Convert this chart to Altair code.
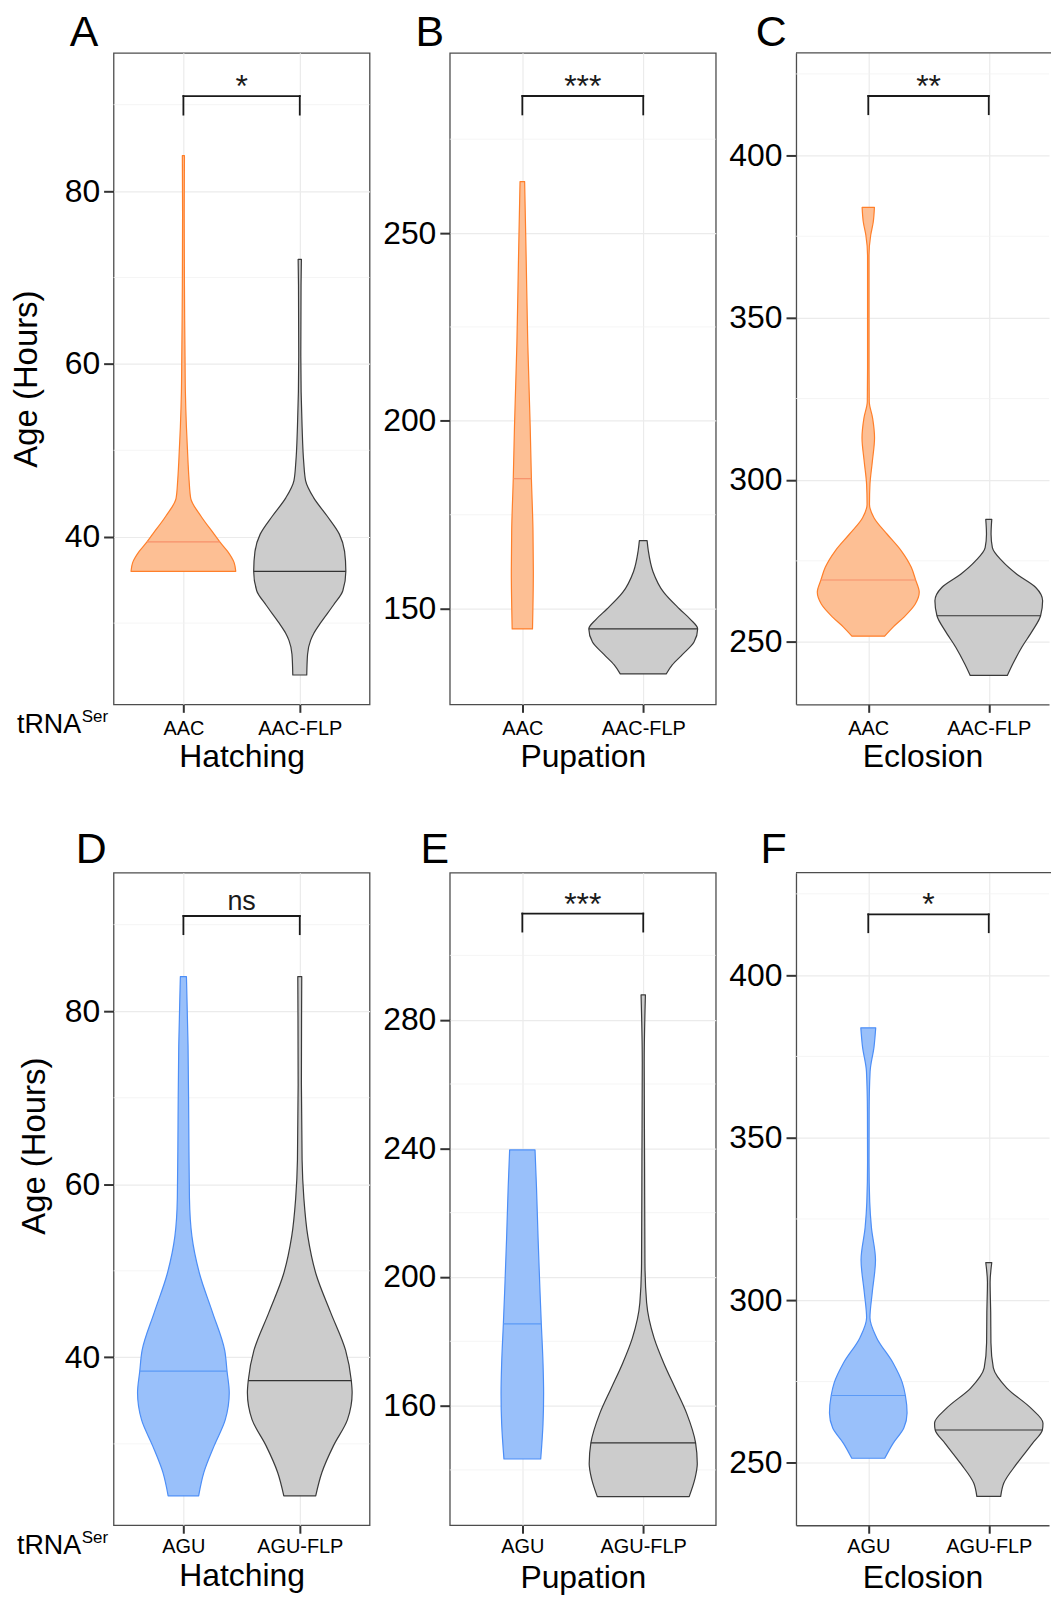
import altair as alt
import numpy as np
import pandas as pd

FONT = "Liberation Sans"

# Violin outlines: ages (hours) with the half-width of the violin at each age,
# in category units (full violin width is 0.9 of the category spacing).

# A - Hatching, tRNA-Ser AAC vs AAC-FLP
A_CTRL_AGE = [36.0, 37.0, 38.3, 39.4, 40.3, 42.4, 44.45, 46.5, 48.6, 52.7, 56.8, 60.9, 65.0, 69.1, 77.3, 84.1]
A_CTRL_HW = [0.45, 0.436, 0.38, 0.313, 0.264, 0.15, 0.063, 0.049, 0.04, 0.026, 0.017, 0.014, 0.011, 0.009, 0.007, 0.009]
A_FLP_AGE = [24.0, 26.4, 28.0, 28.8, 30.05, 32.1, 33.75, 36.0, 38.3, 40.3, 42.4, 44.5, 46.5, 48.6, 52.7, 60.9, 69.1, 72.1]
A_FLP_HW = [0.06, 0.067, 0.093, 0.12, 0.18, 0.29, 0.37, 0.396, 0.385, 0.34, 0.235, 0.12, 0.05, 0.034, 0.02, 0.009, 0.011, 0.014]

# B - Pupation, AAC vs AAC-FLP
B_CTRL_AGE = [144.6, 159.9, 171.0, 184.6, 198.5, 220.6, 242.8, 263.7]
B_CTRL_HW = [0.084, 0.091, 0.088, 0.075, 0.065, 0.045, 0.032, 0.019]
B_FLP_AGE = [132.6, 135.0, 137.8, 141.1, 144.6, 147.15, 149.9, 154.3, 159.9, 165.4, 168.1]
B_FLP_HW = [0.19, 0.24, 0.325, 0.42, 0.45, 0.39, 0.30, 0.17, 0.08, 0.042, 0.032]

# C - Eclosion, AAC vs AAC-FLP
C_CTRL_AGE = [251.8, 254.6, 257.6, 261.7, 265.3, 269.1, 273.0, 278.1, 283.2, 288.3, 292.4, 298.6,
              305.7, 312.9, 319.0, 324.1, 334.4, 369.1, 375.3, 379.3, 383.9]
C_CTRL_HW = [0.136, 0.206, 0.294, 0.39, 0.423, 0.393, 0.357, 0.274, 0.157, 0.047, 0.01, 0.014,
             0.034, 0.052, 0.036, 0.008, 0.006, 0.006, 0.02, 0.041, 0.051]
C_FLP_AGE = [239.7, 243.3, 248.4, 253.5, 258.1, 262.7, 266.8, 270.9, 275.0, 279.1, 283.2, 287.8]
C_FLP_HW = [0.154, 0.2, 0.274, 0.363, 0.43, 0.447, 0.39, 0.233, 0.11, 0.03, 0.019, 0.025]

# D - Hatching, AGU vs AGU-FLP
D_CTRL_AGE = [24.0, 26.7, 29.8, 32.8, 35.9, 38.4, 40.8, 45.2, 49.6, 54.0, 58.4, 67.2, 76.0, 84.0]
D_CTRL_HW = [0.131, 0.176, 0.265, 0.36, 0.394, 0.375, 0.355, 0.25, 0.14, 0.073, 0.052, 0.046, 0.04, 0.026]
D_FLP_AGE = [24.0, 26.7, 29.8, 32.8, 35.9, 37.3, 40.8, 45.2, 49.6, 54.0, 58.4, 62.8, 71.6, 84.0]
D_FLP_HW = [0.137, 0.19, 0.29, 0.41, 0.45, 0.443, 0.394, 0.265, 0.14, 0.069, 0.035, 0.02, 0.014, 0.017]

# E - Pupation, AGU vs AGU-FLP
E_CTRL_AGE = [143.4, 154.4, 163.8, 173.2, 185.4, 196.6, 212.3, 228.0, 239.5]
E_CTRL_HW = [0.152, 0.171, 0.176, 0.171, 0.157, 0.145, 0.13, 0.117, 0.105]
E_FLP_AGE = [131.7, 137.2, 141.9, 148.4, 157.5, 165.4, 173.2, 181.0, 192.0, 204.5, 235.8, 267.0, 287.7]
E_FLP_HW = [0.38, 0.427, 0.447, 0.433, 0.36, 0.265, 0.17, 0.09, 0.028, 0.014, 0.011, 0.008, 0.018]

# F - Eclosion, AGU vs AGU-FLP
F_CTRL_AGE = [251.4, 256.0, 260.7, 265.3, 270.7, 274.6, 280.7, 288.5, 294.6, 302.4, 312.4, 322.4,
              330.2, 342.5, 358.0, 370.3, 378.0, 383.8]
F_CTRL_HW = [0.137, 0.206, 0.295, 0.322, 0.308, 0.283, 0.206, 0.069, 0.014, 0.033, 0.06, 0.026,
             0.012, 0.006, 0.007, 0.015, 0.048, 0.062]
F_FLP_AGE = [239.7, 243.7, 249.8, 256.0, 260.1, 262.2, 266.8, 273.0, 279.2, 286.9, 296.2, 305.5, 311.6]
F_FLP_HW = [0.099, 0.124, 0.234, 0.363, 0.445, 0.45, 0.35, 0.15, 0.038, 0.018, 0.016, 0.011, 0.025]

# medians (control, FLP) per panel
MEDIANS = {"A": (39.4, 36.0), "B": (184.6, 144.6), "C": (269.1, 258.1),
           "D": (38.4, 37.3), "E": (185.4, 148.4), "F": (270.7, 260.1)}

# significance brackets: (bar height, leg foot) and label
BRACKETS = {"A": (91.0, 88.85), "B": (286.5, 281.6), "C": (418.2, 412.6),
            "D": (91.0, 88.9), "E": (313.0, 307.4), "F": (418.7, 413.2)}
SIG = {"A": "*", "B": "***", "C": "**", "D": "ns", "E": "***", "F": "*"}

STAGES = {"A": "Hatching", "B": "Pupation", "C": "Eclosion",
          "D": "Hatching", "E": "Pupation", "F": "Eclosion"}
GENOTYPES = {"A": ("AAC", "AAC-FLP"), "B": ("AAC", "AAC-FLP"), "C": ("AAC", "AAC-FLP"),
             "D": ("AGU", "AGU-FLP"), "E": ("AGU", "AGU-FLP"), "F": ("AGU", "AGU-FLP")}

Y_DOMAIN = {"A": [20.6, 96.0], "B": [124.5, 298.0], "C": [230.8, 431.5],
            "D": [20.6, 96.0], "E": [122.8, 325.7], "F": [230.8, 431.5]}
Y_TICKS = {"A": [40, 60, 80], "B": [150, 200, 250], "C": [250, 300, 350, 400],
           "D": [40, 60, 80], "E": [160, 200, 240, 280], "F": [250, 300, 350, 400]}
Y_MINOR = {"A": [30, 50, 70, 90], "B": [175, 225, 275], "C": [275, 325, 375, 425],
           "D": [30, 50, 70, 90], "E": [140, 180, 220, 260, 300], "F": [275, 325, 375, 425]}

PROFILES = {
    "A": (A_CTRL_AGE, A_CTRL_HW, A_FLP_AGE, A_FLP_HW),
    "B": (B_CTRL_AGE, B_CTRL_HW, B_FLP_AGE, B_FLP_HW),
    "C": (C_CTRL_AGE, C_CTRL_HW, C_FLP_AGE, C_FLP_HW),
    "D": (D_CTRL_AGE, D_CTRL_HW, D_FLP_AGE, D_FLP_HW),
    "E": (E_CTRL_AGE, E_CTRL_HW, E_FLP_AGE, E_FLP_HW),
    "F": (F_CTRL_AGE, F_CTRL_HW, F_FLP_AGE, F_FLP_HW),
}

ORANGE = dict(line="#FF7F2A", fill="#FDBF94", med="#F7906A")
BLUE = dict(line="#4C8EF7", fill="#99C0FA", med="#5B9AF6")
GRAY = dict(line="#3A3A3A", fill="#CCCCCC", med="#333333")
FRAME = "#4D4D4D"

# per panel: plot width, height, x extent, panel-letter offsets, axis label/title placement,
# and whether the panel runs off the right edge (no right-hand frame line)
LAYOUT = {
    "A": dict(w=257, h=654, xmax=2.6, lx=-44, ly=-7, lpad=6, tpad=32.7, ypad=20, yty=None, open=False),
    "B": dict(w=267, h=654, xmax=2.6, lx=-34.5, ly=-7, lpad=6, tpad=32.7, ypad=20, yty=None, open=False),
    "C": dict(w=254, h=654, xmax=2.5, lx=-40.5, ly=-7, lpad=6, tpad=32.7, ypad=20, yty=None, open=True),
    "D": dict(w=257, h=655, xmax=2.6, lx=-38, ly=-10, lpad=3, tpad=30, ypad=12, yty=274, open=False),
    "E": dict(w=267, h=655, xmax=2.6, lx=-29.5, ly=-10, lpad=3, tpad=32, ypad=20, yty=None, open=False),
    "F": dict(w=254, h=655, xmax=2.5, lx=-35.5, ly=-10, lpad=3, tpad=32, ypad=20, yty=None, open=True),
}


def outline(ages, hws, center):
    a = np.asarray(ages, dtype=float)
    h = np.asarray(hws, dtype=float)
    return pd.DataFrame({"age": a, "lo": center - h, "hi": center + h})


def label_layer(text, x, y, size):
    return (
        alt.Chart(pd.DataFrame({"t": [text]}))
        .mark_text(font=FONT, fontSize=size, baseline="alphabetic", align="left", color="black")
        .encode(x=alt.value(x), y=alt.value(y), text="t:N")
    )


def panel(key):
    lay = LAYOUT[key]
    pal = ORANGE if key in "ABC" else BLUE
    g1, g2 = GENOTYPES[key]
    open_right = lay["open"]
    xs = alt.Scale(domain=[0.4, lay["xmax"]], nice=False, zero=False)
    ys = alt.Scale(domain=Y_DOMAIN[key], nice=False, zero=False)
    frame_opts = dict(domain=True, domainColor=FRAME, domainWidth=1.3) if open_right else {}
    xaxis = alt.Axis(values=[1, 2], labelExpr=f"datum.value == 1 ? '{g1}' : '{g2}'",
                     title=STAGES[key], grid=True, labelPadding=lay["lpad"],
                     titlePadding=lay["tpad"], **frame_opts)
    yopts = dict(values=Y_TICKS[key], grid=True, titlePadding=lay["ypad"],
                 title="Age (Hours)" if key in "AD" else None, **frame_opts)
    if lay["yty"] is not None:
        yopts["titleY"] = lay["yty"]
    yaxis = alt.Axis(**yopts)

    def X(f):
        return alt.X(f, scale=xs, axis=xaxis, stack=None)

    def Y(f):
        return alt.Y(f, scale=ys, axis=yaxis)

    layers = []
    layers.append(
        alt.Chart(pd.DataFrame({"v": Y_MINOR[key]}))
        .mark_rule(color="#F2F2F2", strokeWidth=0.8)
        .encode(y=Y("v:Q"))
    )
    c_age, c_hw, f_age, f_hw = PROFILES[key]
    for center, ages, hws, col in ((1, c_age, c_hw, pal), (2, f_age, f_hw, GRAY)):
        layers.append(
            alt.Chart(outline(ages, hws, center))
            .mark_area(orient="horizontal", interpolate="monotone", fill=col["fill"],
                       stroke=col["line"], strokeWidth=1.2, strokeJoin="round", opacity=1)
            .encode(y=Y("age:Q"), x=X("lo:Q"), x2="hi:Q")
        )
    # median lines, spanning the violin at the median age
    meds = MEDIANS[key]
    rows = []
    for center, ages, hws, col, m in ((1, c_age, c_hw, pal, meds[0]), (2, f_age, f_hw, GRAY, meds[1])):
        hw = float(np.interp(m, ages, hws))
        rows.append({"m": m, "lo": center - hw, "hi": center + hw, "c": col["med"]})
    layers.append(
        alt.Chart(pd.DataFrame(rows))
        .mark_rule(strokeWidth=1.2)
        .encode(y=Y("m:Q"), x=X("lo:Q"), x2="hi:Q", color=alt.Color("c:N", scale=None))
    )
    # significance bracket
    top, foot = BRACKETS[key]
    br = pd.DataFrame({"x1": [1, 1, 2], "x2": [2, 1, 2], "y1": [top, foot, foot], "y2": [top, top, top]})
    layers.append(
        alt.Chart(br)
        .mark_rule(color="#1A1A1A", strokeWidth=1.8, strokeCap="square")
        .encode(x=X("x1:Q"), x2="x2:Q", y=Y("y1:Q"), y2="y2:Q")
    )
    label = SIG[key]
    stars = set(label) == {"*"}
    layers.append(
        alt.Chart(pd.DataFrame({"x": [1.5], "y": [top], "t": [label]}))
        .mark_text(font=FONT, fontSize=32 if stars else 27, baseline="alphabetic", align="center",
                   dy=1 if stars else -6, color="#1A1A1A")
        .encode(x=X("x:Q"), y=Y("y:Q"), text="t:N")
    )
    if open_right:
        # top frame line; left and bottom come from the axis domains
        layers.append(
            alt.Chart(pd.DataFrame({"k": [0]}))
            .mark_rule(color=FRAME, strokeWidth=1.3)
            .encode(y=alt.value(0), x=alt.value(0), x2=alt.value(lay["w"] + 2))
        )
    # panel letter above the top-left corner
    layers.append(label_layer(key, lay["lx"], lay["ly"], 43))
    if key in "AD":
        h = lay["h"]
        layers.append(label_layer("tRNA", -97, h + 29, 27))
        layers.append(label_layer("Ser", -32, h + 18, 17))
    props = dict(width=lay["w"], height=lay["h"])
    if open_right:
        props["view"] = alt.ViewBackground(stroke="transparent")
    return alt.layer(*layers).properties(**props)


chart = (
    alt.concat(*[panel(k) for k in "ABCDEF"], columns=3,
               spacing=alt.RowColnumber(row=169, column=80.5), bounds="flush")
    .resolve_scale(x="independent", y="independent")
    .properties(padding={"left": 10, "top": 8, "right": 0, "bottom": 0},
                autosize=alt.AutoSizeParams(type="pad"), background="white")
    .configure_view(stroke=FRAME, strokeWidth=1.3)
    .configure_axis(labelFont=FONT, titleFont=FONT, domain=False, tickColor="#333333", tickWidth=2,
                    labelColor="black", titleColor="black", titleFontWeight="normal",
                    gridColor="#EBEBEB", gridWidth=1.2)
    .configure_axisX(labelFontSize=20, tickSize=8, titleFontSize=32,
                     titleBaseline="alphabetic", minExtent=30, maxExtent=30)
    .configure_axisY(labelFontSize=32, tickSize=10, labelPadding=4, titleFontSize=33,
                     minExtent=50, maxExtent=50)
)

chart.save("out.html", embed_options={"renderer": "svg", "actions": False})
